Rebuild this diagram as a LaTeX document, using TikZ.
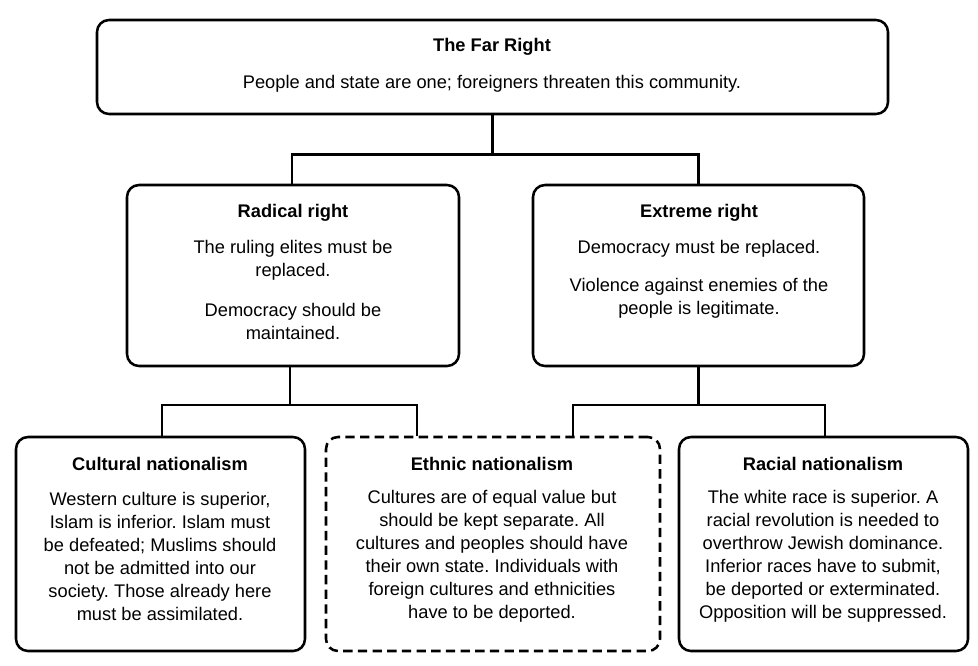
\documentclass[tikz,border=0pt]{standalone}
\usepackage{fontspec}
\setmainfont{Liberation Sans}
\usetikzlibrary{fit}
\begin{document}
\frenchspacing
\begin{tikzpicture}[x=0.75pt,y=-0.75pt,
  box/.style={draw=black,line width=1.9pt,rounded corners=9pt,inner sep=0pt},
  conn/.style={draw=black,line width=1.9pt},
  txt/.style={align=center,inner sep=0pt,font=\fontsize{13.7}{17.25}\selectfont},
  ttl/.style={txt,font=\fontsize{13.7}{17.25}\selectfont\bfseries}]
\useasboundingbox (0,0) rectangle (978,665);
\node[box,fit={(97,20) (888,114)}] (top) {};
\node[box,fit={(127,185) (459,366)}] (rad) {};
\node[box,fit={(533,185) (864,366)}] (ext) {};
\node[box,fit={(16,437) (305,651)}] (cul) {};
\node[box,dashed,dash pattern=on 7pt off 4pt,fit={(326,437) (660,651)}] (eth) {};
\node[box,fit={(679,437) (968,651)}] (rac) {};

\node[ttl] (t0) at (492,47) {The Far Right};
\node[txt] (t1) at (492,84) {People and state are one; foreigners threaten this community.};
\node[ttl] (r0) at (293,213) {Radical right};
\node[txt] (r1) at (293,260.5) {The ruling elites must be\\replaced.};
\node[txt] (r2) at (293,321) {Democracy should be\\maintained.};
\node[ttl] (e0) at (699,213) {Extreme right};
\node[txt] (e1) at (699,249) {Democracy must be replaced.};
\node[txt] (e2) at (699,298.5) {Violence against enemies of the\\people is legitimate.};
\node[ttl] (c0) at (160,464) {Cultural nationalism};
\node[txt] (c1) at (160,556.5) {Western culture is superior,\\Islam is inferior. Islam must\\be defeated; Muslims should\\not be admitted into our\\society. Those already here\\must be assimilated.};
\node[ttl] (n0) at (492,464) {Ethnic nationalism};
\node[txt] (n1) at (492,556.5) {Cultures are of equal value but\\should be kept separate. All\\cultures and peoples should have\\their own state. Individuals with\\foreign cultures and ethnicities\\have to be deported.};
\node[ttl] (a0) at (823,464) {Racial nationalism};
\node[txt] (a1) at (823,556.5) {The white race is superior. A\\racial revolution is needed to\\overthrow Jewish dominance.\\Inferior races have to submit,\\be deported or exterminated.\\Opposition will be suppressed.};

\draw[conn] (top.south) -- ++(0,39) -| (rad.north -| 292,0);
\draw[conn] (top.south) ++(0,39) -| (ext.north);
\draw[conn] (rad.south -| 290,0) -- (290,405) -| (cul.north -| 162,0);
\draw[conn] (290,405) -| (eth.north -| 417,0);
\draw[conn] (ext.south) -- (698.5,405) -| (eth.north -| 573,0);
\draw[conn] (698.5,405) -| (rac.north -| 825,0);
\end{tikzpicture}
\end{document}
